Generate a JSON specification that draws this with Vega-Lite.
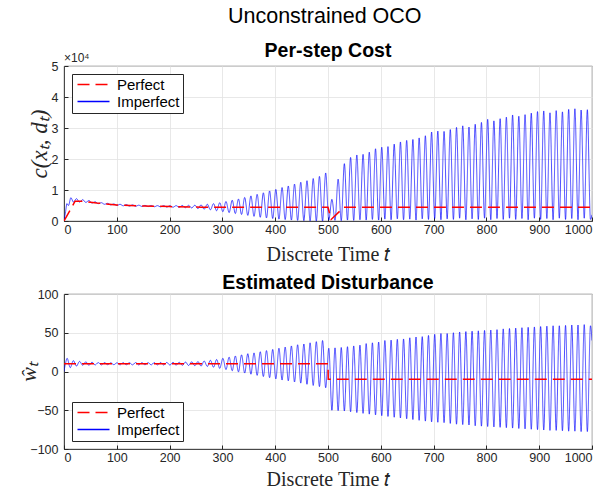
{
"$schema": "https://vega.github.io/schema/vega-lite/v6.json",
"background": "white",
"padding": {"left": 16, "top": 5, "right": 5, "bottom": 0},
"title": {"text": "Unconstrained OCO", "font": "Liberation Sans", "fontSize": 21.5, "fontWeight": "normal", "color": "black", "anchor": "middle", "offset": 13, "dx": 20},
"config": {
  "view": {"stroke": "#262626", "strokeWidth": 0.8},
  "axis": {"labelFont": "Liberation Sans", "labelFontSize": 12.5, "labelColor": "#262626", "labelOverlap": false, "domainColor": "#262626", "domainWidth": 0.8, "tickColor": "#262626", "tickSize": -4, "labelPadding": 10, "gridColor": "#e2e2e2", "gridWidth": 0.8, "titleFont": "Liberation Serif", "titleFontWeight": "normal", "titleColor": "#262626"},
  "title": {"font": "Liberation Sans", "fontSize": 19.5, "fontWeight": "bold", "color": "black"},
  "legend": {"labelFont": "Liberation Sans", "labelFontSize": 15, "labelColor": "black", "symbolType": "M-3.2,0H3.2", "symbolSize": 100, "symbolStrokeWidth": 1.5, "symbolOffset": 11, "strokeColor": "#262626", "fillColor": "white", "padding": 3, "offset": 8, "labelOffset": 16, "rowPadding": 1, "cornerRadius": 0}
},
"datasets": {
  "ci": [{"t":0,"c":0},{"t":3,"c":3000},{"t":5.5,"c":5600},{"t":8.5,"c":5000},{"t":13,"c":7500},{"t":18,"c":6100},{"t":23.6,"c":7200},{"t":29.5,"c":6100},{"t":35.4,"c":6900},{"t":41.3,"c":6000},{"t":47.2,"c":6600},{"t":53.1,"c":5800},{"t":59,"c":6200},{"t":64.9,"c":5600},{"t":70.8,"c":5900},{"t":76.7,"c":5400},{"t":82.6,"c":5700},{"t":88.5,"c":5200},{"t":94.4,"c":5500},{"t":100.3,"c":5000},{"t":106.2,"c":5400},{"t":112.1,"c":4900},{"t":118,"c":5300},{"t":123.9,"c":4800},{"t":129.8,"c":5200},{"t":135.7,"c":4750},{"t":141.6,"c":5100},{"t":147.5,"c":4700},{"t":153.4,"c":5050},{"t":159.3,"c":4650},{"t":165.2,"c":5000},{"t":171.1,"c":4600},{"t":177,"c":4950},{"t":182.9,"c":4550},{"t":188.8,"c":4950},{"t":194.7,"c":4500},{"t":200.6,"c":4950},{"t":206.5,"c":4450},{"t":212.4,"c":4950},{"t":218.3,"c":4400},{"t":224.2,"c":5000},{"t":230.1,"c":4300},{"t":236,"c":5050},{"t":241.9,"c":4200},{"t":247.8,"c":5100},{"t":253.7,"c":4000},{"t":259.6,"c":5200},{"t":265.5,"c":3800},{"t":271.4,"c":5400},{"t":277.3,"c":3600},{"t":283.2,"c":5600},{"t":289.1,"c":3300},{"t":295,"c":5900},{"t":300.9,"c":3000},{"t":306.8,"c":6300},{"t":312.7,"c":2700},{"t":318.6,"c":6700},{"t":324.5,"c":2400},{"t":330.4,"c":7100},{"t":336.3,"c":2100},{"t":342.2,"c":7600},{"t":348.1,"c":1800},{"t":354,"c":8100},{"t":359.9,"c":1500},{"t":365.8,"c":8600},{"t":371.7,"c":1200},{"t":377.6,"c":9100},{"t":383.5,"c":1000},{"t":389.4,"c":9700},{"t":395.3,"c":800},{"t":401.2,"c":10200},{"t":407.1,"c":600},{"t":413,"c":10800},{"t":418.9,"c":450},{"t":424.8,"c":11300},{"t":430.7,"c":300},{"t":436.6,"c":11900},{"t":442.5,"c":200},{"t":448.4,"c":12500},{"t":454.3,"c":100},{"t":460.2,"c":13000},{"t":466.1,"c":50},{"t":472,"c":13700},{"t":477.9,"c":0},{"t":483.8,"c":14400},{"t":489.7,"c":0},{"t":495.6,"c":15500},{"t":501.5,"c":300},{"t":507.4,"c":7000},{"t":513.3,"c":200},{"t":519.2,"c":13500},{"t":525.1,"c":100},{"t":531,"c":18500},{"t":536.9,"c":300},{"t":542.8,"c":20500},{"t":548.7,"c":200},{"t":554.6,"c":21300},{"t":560.5,"c":400},{"t":566.4,"c":21500},{"t":572.3,"c":300},{"t":578.2,"c":22200},{"t":584.1,"c":500},{"t":590,"c":23300},{"t":595.9,"c":300},{"t":601.8,"c":23800},{"t":607.7,"c":600},{"t":613.6,"c":24000},{"t":619.5,"c":400},{"t":625.4,"c":24800},{"t":631.3,"c":700},{"t":637.2,"c":25500},{"t":643.1,"c":400},{"t":649,"c":26000},{"t":654.9,"c":600},{"t":660.8,"c":26300},{"t":666.7,"c":300},{"t":672.6,"c":26800},{"t":678.5,"c":700},{"t":684.4,"c":27500},{"t":690.3,"c":500},{"t":696.2,"c":28700},{"t":702.1,"c":800},{"t":708,"c":29000},{"t":713.9,"c":400},{"t":719.8,"c":28900},{"t":725.7,"c":700},{"t":731.6,"c":29500},{"t":737.5,"c":500},{"t":743.4,"c":30200},{"t":749.3,"c":900},{"t":755.2,"c":30700},{"t":761.1,"c":400},{"t":767,"c":30300},{"t":772.9,"c":700},{"t":778.8,"c":31200},{"t":784.7,"c":500},{"t":790.6,"c":31800},{"t":796.5,"c":900},{"t":802.4,"c":32800},{"t":808.3,"c":400},{"t":814.2,"c":32300},{"t":820.1,"c":800},{"t":826,"c":33000},{"t":831.9,"c":500},{"t":837.8,"c":33500},{"t":843.7,"c":900},{"t":849.6,"c":34200},{"t":855.5,"c":500},{"t":861.4,"c":33800},{"t":867.3,"c":800},{"t":873.2,"c":34300},{"t":879.1,"c":400},{"t":885,"c":34800},{"t":890.9,"c":900},{"t":896.8,"c":35300},{"t":902.7,"c":500},{"t":908.6,"c":35500},{"t":914.5,"c":800},{"t":920.4,"c":34900},{"t":926.3,"c":400},{"t":932.2,"c":35600},{"t":938.1,"c":900},{"t":944,"c":35200},{"t":949.9,"c":500},{"t":955.8,"c":36000},{"t":961.7,"c":800},{"t":967.6,"c":36200},{"t":973.5,"c":400},{"t":979.4,"c":35800},{"t":985.3,"c":900},{"t":991.2,"c":35900},{"t":997.1,"c":500},{"t":1000,"c":2000}],
  "cp": [{"t":0,"c":0},{"t":21,"c":6400},{"t":35,"c":6400},{"t":62,"c":5800},{"t":100,"c":5200},{"t":150,"c":4850},{"t":200,"c":4650},{"t":260,"c":4450},{"t":300,"c":4400},{"t":500,"c":4400},{"t":506,"c":500},{"t":525,"c":3600},{"t":530,"c":4400},{"t":1000,"c":4400}],
  "note": [{"t":0,"c":50000,"lab":"×10⁴"}],
  "wi": [{"t":0,"w":0},{"t":3,"w":11},{"t":5.9,"w":17},{"t":11.8,"w":5},{"t":17.7,"w":14},{"t":23.6,"w":7},{"t":29.5,"w":13},{"t":35.4,"w":8},{"t":41.3,"w":12.5},{"t":47.2,"w":8},{"t":53.1,"w":12},{"t":59,"w":8.5},{"t":64.9,"w":11.5},{"t":70.8,"w":8.5},{"t":76.7,"w":11.5},{"t":82.6,"w":8.8},{"t":88.5,"w":11.2},{"t":94.4,"w":8.8},{"t":100.3,"w":11.2},{"t":106.2,"w":8.6},{"t":112.1,"w":11.4},{"t":118,"w":8.7},{"t":123.9,"w":11.3},{"t":129.8,"w":8.6},{"t":135.7,"w":11.5},{"t":141.6,"w":8.5},{"t":147.5,"w":11.4},{"t":153.4,"w":8.7},{"t":159.3,"w":11.3},{"t":165.2,"w":8.6},{"t":171.1,"w":11.5},{"t":177,"w":8.5},{"t":182.9,"w":11.6},{"t":188.8,"w":8.4},{"t":194.7,"w":11.7},{"t":200.6,"w":8.3},{"t":206.5,"w":11.8},{"t":212.4,"w":8.2},{"t":218.3,"w":11.9},{"t":224.2,"w":8},{"t":230.1,"w":12.2},{"t":236,"w":7.8},{"t":241.9,"w":12.5},{"t":247.8,"w":7.5},{"t":253.7,"w":12.8},{"t":259.6,"w":7},{"t":265.5,"w":13.5},{"t":271.4,"w":6.5},{"t":277.3,"w":14.5},{"t":283.2,"w":5.5},{"t":289.1,"w":15.5},{"t":295,"w":4},{"t":300.9,"w":17},{"t":306.8,"w":2.5},{"t":312.7,"w":18.5},{"t":318.6,"w":1},{"t":324.5,"w":20},{"t":330.4,"w":-0.5},{"t":336.3,"w":21.5},{"t":342.2,"w":-2},{"t":348.1,"w":23},{"t":354,"w":-3.5},{"t":359.9,"w":24},{"t":365.8,"w":-5},{"t":371.7,"w":25.5},{"t":377.6,"w":-6.5},{"t":383.5,"w":27},{"t":389.4,"w":-8},{"t":395.3,"w":28.5},{"t":401.2,"w":-9.5},{"t":407.1,"w":30},{"t":413,"w":-11},{"t":418.9,"w":31.5},{"t":424.8,"w":-12},{"t":430.7,"w":33},{"t":436.6,"w":-13.5},{"t":442.5,"w":34.5},{"t":448.4,"w":-15},{"t":454.3,"w":35.5},{"t":460.2,"w":-16.5},{"t":466.1,"w":37},{"t":472,"w":-18},{"t":477.9,"w":38.5},{"t":483.8,"w":-19.5},{"t":489.7,"w":40},{"t":495.6,"w":-21},{"t":501.5,"w":30},{"t":507.4,"w":-50},{"t":513.3,"w":30.5},{"t":519.2,"w":-50.5},{"t":525.1,"w":31},{"t":531,"w":-51},{"t":536.9,"w":32},{"t":542.8,"w":-52},{"t":548.7,"w":33},{"t":554.6,"w":-53},{"t":560.5,"w":34},{"t":566.4,"w":-54},{"t":572.3,"w":36},{"t":578.2,"w":-55},{"t":584.1,"w":37},{"t":590,"w":-56},{"t":595.9,"w":38},{"t":601.8,"w":-57},{"t":607.7,"w":40},{"t":613.6,"w":-58},{"t":619.5,"w":40.5},{"t":625.4,"w":-59},{"t":631.3,"w":41.5},{"t":637.2,"w":-60},{"t":643.1,"w":42},{"t":649,"w":-61},{"t":654.9,"w":43.5},{"t":660.8,"w":-62},{"t":666.7,"w":44.5},{"t":672.6,"w":-63},{"t":678.5,"w":45},{"t":684.4,"w":-64},{"t":690.3,"w":46.5},{"t":696.2,"w":-65},{"t":702.1,"w":48},{"t":708,"w":-65.5},{"t":713.9,"w":49},{"t":719.8,"w":-66},{"t":725.7,"w":49},{"t":731.6,"w":-67},{"t":737.5,"w":50},{"t":743.4,"w":-68},{"t":749.3,"w":51},{"t":755.2,"w":-68.5},{"t":761.1,"w":51.5},{"t":767,"w":-69},{"t":772.9,"w":52},{"t":778.8,"w":-70},{"t":784.7,"w":52.5},{"t":790.6,"w":-70.5},{"t":796.5,"w":53},{"t":802.4,"w":-71},{"t":808.3,"w":53.5},{"t":814.2,"w":-71.5},{"t":820.1,"w":54},{"t":826,"w":-72},{"t":831.9,"w":55},{"t":837.8,"w":-72.5},{"t":843.7,"w":55.5},{"t":849.6,"w":-73},{"t":855.5,"w":56},{"t":861.4,"w":-73.5},{"t":867.3,"w":56.5},{"t":873.2,"w":-74},{"t":879.1,"w":57},{"t":885,"w":-74.5},{"t":890.9,"w":57.5},{"t":896.8,"w":-75},{"t":902.7,"w":58},{"t":908.6,"w":-75.5},{"t":914.5,"w":58.5},{"t":920.4,"w":-76},{"t":926.3,"w":59},{"t":932.2,"w":-76},{"t":938.1,"w":59},{"t":944,"w":-76.5},{"t":949.9,"w":59.5},{"t":955.8,"w":-77},{"t":961.7,"w":60},{"t":967.6,"w":-77},{"t":973.5,"w":60},{"t":979.4,"w":-77.5},{"t":985.3,"w":60.5},{"t":991.2,"w":-77.5},{"t":997.1,"w":59},{"t":1000,"w":40}],
  "wp": [{"t":0,"w":10},{"t":500,"w":10},{"t":500.5,"w":-10},{"t":1000,"w":-10}]
},
"bounds": "flush",
"spacing": 73,
"resolve": {"scale": {"color": "independent", "strokeDash": "independent"}, "legend": {"color": "independent", "strokeDash": "independent"}},
"vconcat": [
  {
    "width": 528, "height": 155,
    "title": {"text": "Per-step Cost", "offset": -9},
    "encoding": {
      "x": {"field": "t", "type": "quantitative", "scale": {"domain": [0, 1000], "nice": false}, "axis": {"values": [0,100,200,300,400,500,600,700,800,900,1000], "format": "d", "labelPadding": 6, "labelOverlap": false, "title": "Discrete Time 𝑡", "titleFontSize": 20, "titlePadding": 9}},
      "y": {"field": "c", "type": "quantitative", "scale": {"domain": [0, 50000], "nice": false}, "axis": {"values": [0,10000,20000,30000,40000,50000], "tickCount": 6, "labelExpr": "datum.value/10000", "labelOverlap": false, "title": "c(xₜ, dₜ)", "titleFontStyle": "italic", "titleFontSize": 23, "titleX": -13}}
    },
    "layer": [
      {
        "data": {"name": "ci"},
        "mark": {"type": "line", "interpolate": "monotone", "clip": true, "strokeWidth": 0.7},
        "encoding": {
          "color": {"datum": "Imperfect", "type": "nominal", "scale": {"domain": ["Perfect", "Imperfect"], "range": ["#ff0000", "#0000ff"]}, "legend": {"orient": "top-left", "title": null}},
          "strokeDash": {"datum": "Imperfect", "type": "nominal", "scale": {"domain": ["Perfect", "Imperfect"], "range": [[12, 6], [1, 0]]}, "legend": {"orient": "top-left", "title": null}}
        }
      },
      {
        "data": {"name": "cp"},
        "mark": {"type": "line", "clip": true, "strokeWidth": 1.5},
        "encoding": {
          "color": {"datum": "Perfect", "type": "nominal"},
          "strokeDash": {"datum": "Perfect", "type": "nominal"}
        }
      },
      {
        "data": {"name": "note"},
        "mark": {"type": "text", "align": "left", "baseline": "bottom", "dy": -1, "fontSize": 12, "font": "Liberation Sans", "color": "#262626"},
        "encoding": {"text": {"field": "lab"}}
      }
    ]
  },
  {
    "width": 528, "height": 155,
    "title": {"text": "Estimated Disturbance", "offset": -5},
    "encoding": {
      "x": {"field": "t", "type": "quantitative", "scale": {"domain": [0, 1000], "nice": false}, "axis": {"values": [0,100,200,300,400,500,600,700,800,900,1000], "format": "d", "labelPadding": 6, "labelOverlap": false, "title": "Discrete Time 𝑡", "titleFontSize": 20, "titlePadding": 6}},
      "y": {"field": "w", "type": "quantitative", "scale": {"domain": [-100, 100], "nice": false}, "axis": {"values": [-100,-50,0,50,100], "tickCount": 5, "labelOverlap": false, "title": "ŵₜ", "titleFontStyle": "italic", "titleFontSize": 22, "titleX": -24}}
    },
    "layer": [
      {
        "data": {"name": "wi"},
        "mark": {"type": "line", "interpolate": "monotone", "clip": true, "strokeWidth": 0.7},
        "encoding": {
          "color": {"datum": "Imperfect", "type": "nominal", "scale": {"domain": ["Perfect", "Imperfect"], "range": ["#ff0000", "#0000ff"]}, "legend": {"orient": "bottom-left", "title": null}},
          "strokeDash": {"datum": "Imperfect", "type": "nominal", "scale": {"domain": ["Perfect", "Imperfect"], "range": [[12, 6], [1, 0]]}, "legend": {"orient": "bottom-left", "title": null}}
        }
      },
      {
        "data": {"name": "wp"},
        "mark": {"type": "line", "clip": true, "strokeWidth": 1.5},
        "encoding": {
          "color": {"datum": "Perfect", "type": "nominal"},
          "strokeDash": {"datum": "Perfect", "type": "nominal"}
        }
      }
    ]
  }
]
}
